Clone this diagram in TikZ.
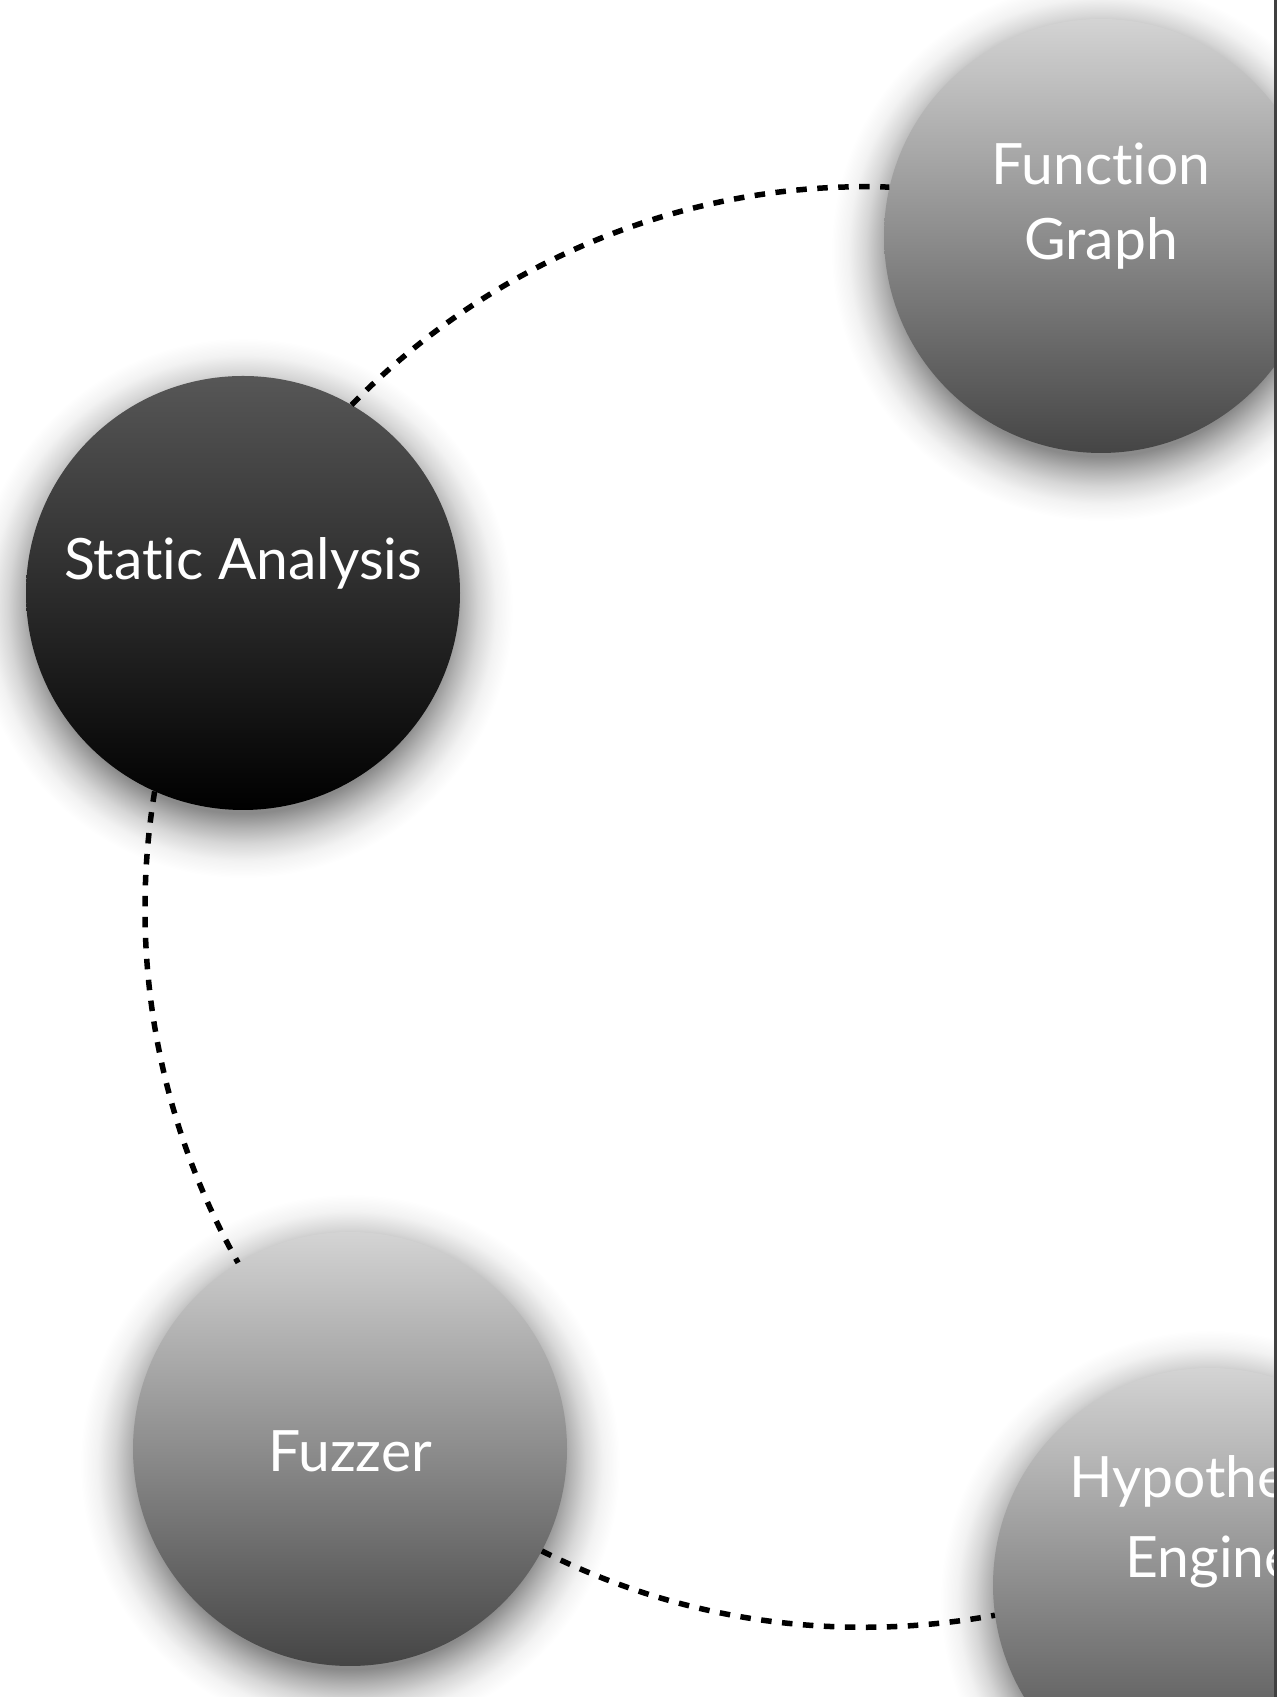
\documentclass[tikz,border=0pt]{standalone}
\usepackage{fontspec}
\setmainfont{Lato}[Ligatures=NoCommon]
\definecolor{satop}{gray}{0.34}
\definecolor{lgtop}{gray}{0.83}
\definecolor{lgbot}{gray}{0.27}
\definecolor{framegray}{gray}{0.25}
\definecolor{shA}{gray}{0.54}
\definecolor{shB}{gray}{0.70}
\definecolor{shC}{gray}{0.84}
\definecolor{shD}{gray}{0.95}
\pgfdeclareradialshading{softshadow}{\pgfpoint{0bp}{0bp}}{%
  color(0bp)=(shA); color(19bp)=(shA); color(20.4bp)=(shB);
  color(21.8bp)=(shC); color(23.4bp)=(shD); color(25bp)=(white); color(50bp)=(white)}
\pgfdeclarelayer{bg}
\pgfsetlayers{bg,main}
\begin{document}
\begin{tikzpicture}[x=1pt,y=1pt,
  bubble/.style={circle, minimum size=434pt, inner sep=0pt, draw=none, shading=axis},
  dark/.style={bubble, top color=satop, bottom color=black},
  light/.style={bubble, top color=lgtop, bottom color=lgbot},
  softshade/.style={shading=softshadow},
  lbl/.style={text=white, font=\fontsize{57}{68}\selectfont, inner sep=0pt, anchor=base},
  link/.style={line width=5.5pt, dash pattern=on 10.5pt off 10.5pt, black}]
\useasboundingbox (0,0) rectangle (1277,1697);
\begin{scope}
  \clip (0,0) rectangle (1274,1697);
  \node[dark]  (sa)  at (243,1104) {};
  \node[light] (fg)  at (1101,1461) {};
  \node[light] (fz)  at (350,248) {};
  \node[light] (hyp) at (1210,112) {};
  \begin{pgfonlayer}{bg}
    \fill[white] (0,0) rectangle (1277,1697);
    \clip (0,0) rectangle (1274,1697);
    \foreach \n in {sa,fg,fz,hyp}
      \shade[softshade] ([yshift=-15pt]\n.center) circle[radius=270pt];
  \end{pgfonlayer}
  \node[lbl] (salbl)   at ([yshift=13pt]sa.center)  {Static Analysis};
  \node[lbl] (fglbla)  at ([yshift=51pt]fg.center)  {Function};
  \node[lbl] (fglblb)  at ([yshift=-24pt]fg.center) {Graph};
  \node[lbl] (fzlbl)   at ([yshift=-23pt]fz.center) {Fuzzer};
  \node[lbl] (hyplbla) at ([yshift=87pt]hyp.center) {Hypothesis};
  \node[lbl] (hyplblb) at ([yshift=7pt]hyp.center)  {Engine};
  \draw[link] (sa.60) to[out=45.6, in=178, looseness=0.89] (fg.167);
  \draw[link] (sa.246) to[out=260.6, in=119.5, looseness=0.88] (fz.121);
  \draw[link] (fz.332) to[out=333.3, in=190.4, looseness=0.88] (hyp.188);
\end{scope}
\draw[line width=3pt, framegray] (1275.5,0) -- (1275.5,1697);
\end{tikzpicture}
\end{document}
